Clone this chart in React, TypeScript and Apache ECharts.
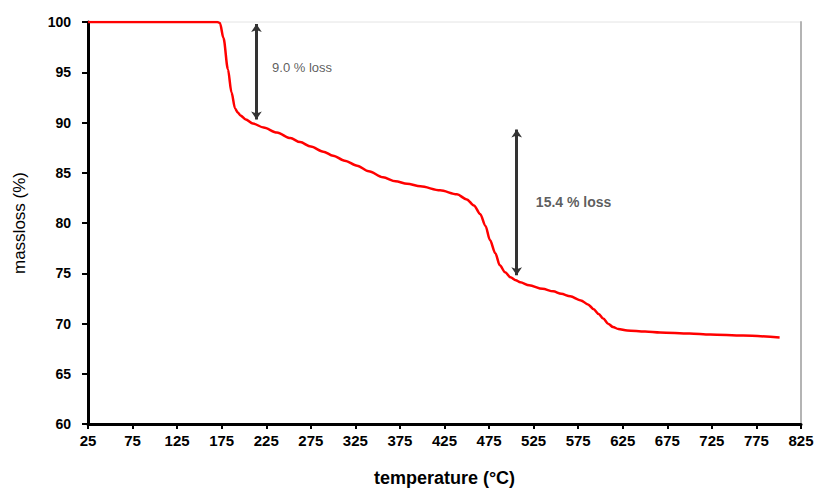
import React, { useEffect, useRef } from "react";
import * as echarts from "echarts";

// Temperature (°C) and mass (%)
const temperatures = [25, 170, 173, 177, 182, 186, 190, 193, 196, 202, 210, 222, 237, 252, 263, 275, 289, 300, 313, 327, 340, 356, 370, 383, 398, 420, 439, 450, 458, 465, 471, 476, 482, 487, 493, 499, 505, 510, 520, 535, 547, 556, 566, 578, 586, 592, 598, 603, 609, 614, 620, 630, 650, 667, 700, 723, 760, 801];
const massValues = [100, 100, 99.9, 98.4, 95.3, 93.0, 91.4, 91.0, 90.7, 90.3, 89.9, 89.5, 89.0, 88.45, 88.05, 87.6, 87.1, 86.7, 86.2, 85.7, 85.15, 84.55, 84.15, 83.9, 83.65, 83.25, 82.85, 82.35, 81.75, 80.9, 79.7, 78.3, 77.0, 75.8, 75.1, 74.6, 74.3, 74.1, 73.8, 73.45, 73.2, 72.95, 72.7, 72.3, 71.9, 71.45, 70.95, 70.5, 69.95, 69.65, 69.45, 69.3, 69.2, 69.1, 69.0, 68.9, 68.8, 68.6];

// axis tick range (x labels start at 25 and step by 50)
const xStart = 25;
const xEnd = 825;
const xStep = 50;
const yMin = 60;
const yMax = 100;
const yStep = 5;

// annotation arrows: [temperature, from mass, to mass]
const arrows = [
  [214, 99.8, 90.3],
  [506, 89.3, 74.8],
];
// annotation texts: [temperature, mass, text]
const notes: [number, number, string][] = [
  [231.5, 95.5, "9.0 % loss"],
  [527.5, 82.1, "15.4 % loss"],
];
const noteStyles = [
  { fontSize: 13, fontWeight: "normal" },
  { fontSize: 14, fontWeight: "bold" },
];

const FONT = "'Liberation Sans', Arial, sans-serif";

export default function App() {
  const ref = useRef<HTMLDivElement>(null);
  useEffect(() => {
    if (!ref.current) return;
    const chart = echarts.init(ref.current, undefined, { renderer: "svg" });
    const lineData = temperatures.map((t, i) => [t - xStart, massValues[i]]);
    chart.setOption({
      animation: false,
      backgroundColor: "#ffffff",
      grid: {
        left: 88,
        right: 17,
        top: 22,
        bottom: 56,
        show: true,
        borderColor: "#e4e4e4",
        borderWidth: 1,
      },
      xAxis: {
        type: "value",
        min: 0,
        max: xEnd - xStart,
        interval: xStep,
        name: "temperature (°C)",
        nameLocation: "middle",
        nameGap: 45,
        nameTextStyle: { fontFamily: FONT, fontSize: 18, fontWeight: "bold", color: "#000" },
        axisLine: { show: true, lineStyle: { color: "#000", width: 3 } },
        axisTick: { show: true, inside: false, length: 5, lineStyle: { color: "#000", width: 2 } },
        axisLabel: {
          margin: 9,
          fontFamily: FONT,
          fontSize: 15,
          fontWeight: "bold",
          color: "#000",
          formatter: (v: number) => String(v + xStart),
        },
        splitLine: { show: false },
      },
      yAxis: [
        {
          type: "value",
          min: yMin,
          max: yMax,
          interval: yStep,
          name: "massloss (%)",
          nameLocation: "middle",
          nameGap: 60,
          nameTextStyle: { fontFamily: FONT, fontSize: 17, color: "#000" },
          axisLine: { show: true, lineStyle: { color: "#000", width: 3 } },
          axisTick: { show: true, inside: false, length: 6, lineStyle: { color: "#000", width: 2 } },
          axisLabel: { margin: 17, fontFamily: FONT, fontSize: 14, fontWeight: "bold", color: "#000" },
          splitLine: { show: false },
        },
        {
          type: "value",
          position: "right",
          min: yMin,
          max: yMax,
          interval: yStep,
          axisLine: { show: true, lineStyle: { color: "#b4b4b4", width: 2 } },
          axisTick: { show: false },
          axisLabel: { show: false },
          splitLine: { show: false },
        },
      ],
      series: [
        {
          type: "line",
          data: lineData,
          smooth: 0.3,
          smoothMonotone: "x",
          showSymbol: false,
          symbol: "none",
          lineStyle: { color: "#ff0000", width: 2.5 },
          z: 3,
          markLine: {
            silent: true,
            symbol: ["arrow", "arrow"],
            symbolSize: 8,
            label: { show: false },
            lineStyle: { color: "#333333", width: 3, type: "solid" },
            data: arrows.map((a) => [
              { coord: [a[0] - xStart, a[1]] },
              { coord: [a[0] - xStart, a[2]] },
            ]),
          },
        },
        {
          type: "scatter",
          symbolSize: 0,
          silent: true,
          data: notes.map((n, i) => ({
            value: [n[0] - xStart, n[1], n[2]],
            label: { ...noteStyles[i] },
          })),
          label: {
            show: true,
            position: [0, 0],
            align: "left",
            verticalAlign: "middle",
            fontFamily: FONT,
            color: "#333",
            formatter: (p: any) => p.value[2],
          },
        },
      ],
    });
    return () => chart.dispose();
  }, []);
  return (
    <div
      ref={ref}
      style={{ position: "fixed", left: 0, top: 0, width: 818, height: 492 }}
    />
  );
}
